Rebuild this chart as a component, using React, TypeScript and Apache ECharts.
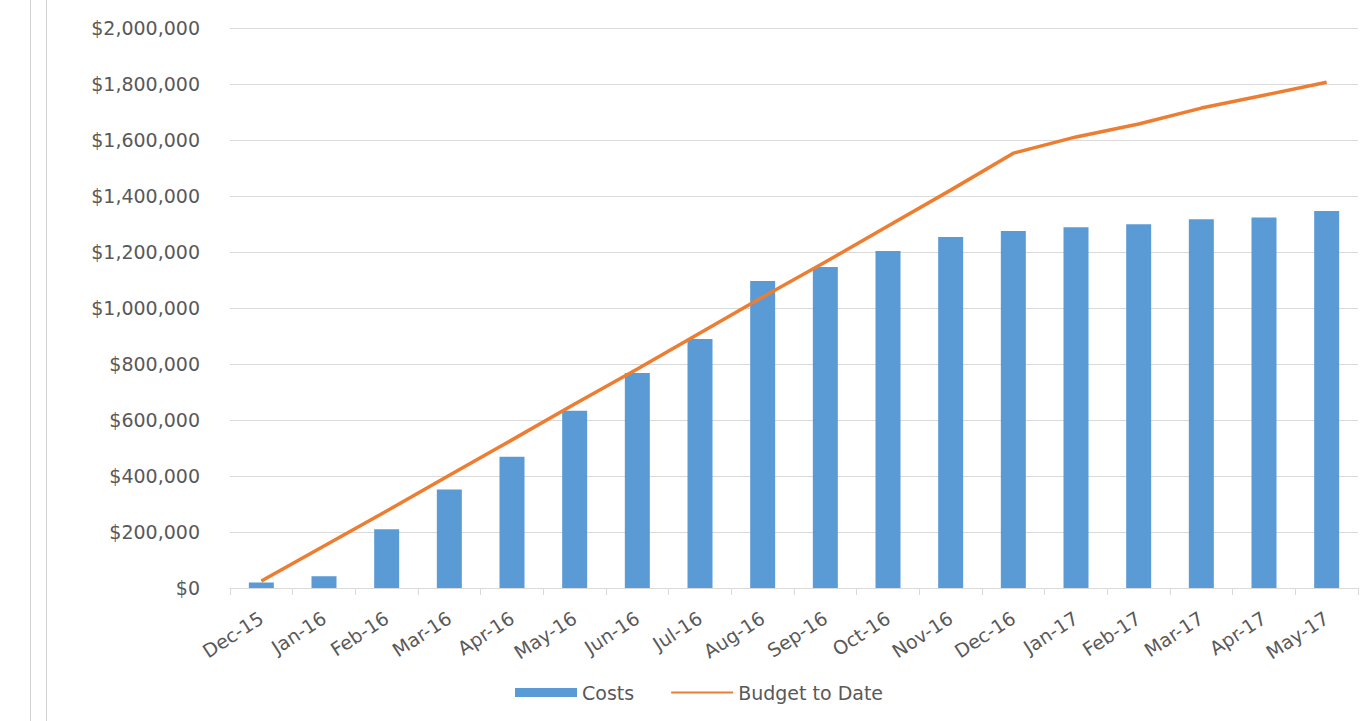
import React, { useEffect, useRef } from "react";
import * as echarts from "echarts";

const months = [
  "Dec-15", "Jan-16", "Feb-16", "Mar-16", "Apr-16", "May-16", "Jun-16", "Jul-16", "Aug-16",
  "Sep-16", "Oct-16", "Nov-16", "Dec-16", "Jan-17", "Feb-17", "Mar-17", "Apr-17", "May-17",
];
const costs = [
  20000, 42000, 210000, 352000, 469000, 633000, 768000, 889000, 1096000,
  1146000, 1204000, 1254000, 1275000, 1288000, 1299000, 1317000, 1323000, 1346000,
];
const budgetToDate = [
  25000, 150000, 275000, 403000, 529000, 657000, 782000, 911000, 1039000,
  1164000, 1293000, 1421000, 1553000, 1611000, 1657000, 1714000, 1760000, 1806000,
];
const yMin = 0;
const yMax = 2000000;
const yStep = 200000;

const textColor = "#595959";
const font = "DejaVu Sans";

export default function App() {
  const ref = useRef<HTMLDivElement>(null);
  useEffect(() => {
    if (!ref.current) return;
    const chart = echarts.init(ref.current, null, { renderer: "svg" });
    chart.setOption({
      animation: false,
      backgroundColor: "#ffffff",
      textStyle: { fontFamily: font, color: textColor },
      graphic: [
        { type: "line", shape: { x1: 30.5, y1: 0, x2: 30.5, y2: 721 }, style: { stroke: "#d0d0d0", lineWidth: 1 } },
        { type: "line", shape: { x1: 46.5, y1: 0, x2: 46.5, y2: 721 }, style: { stroke: "#d0d0d0", lineWidth: 1 } },
      ],
      grid: { left: 230, right: 12, top: 28, bottom: 133, containLabel: false },
      legend: {
        bottom: 14,
        left: 510,
        itemGap: 36,
        itemWidth: 62,
        itemHeight: 9,
        textStyle: { fontFamily: font, fontSize: 19, color: textColor },
        data: [
          { name: "Costs", icon: "rect" },
          { name: "Budget to Date", itemStyle: { opacity: 0 } },
        ],
      },
      xAxis: {
        type: "category",
        data: months,
        boundaryGap: true,
        axisLine: { show: true, lineStyle: { color: "#d9d9d9", width: 1 } },
        axisTick: { show: true, alignWithLabel: false, length: 7, lineStyle: { color: "#d9d9d9" } },
        axisLabel: {
          rotate: 33,
          interval: 0,
          fontFamily: font,
          fontSize: 19,
          color: textColor,
          margin: 28,
        },
        splitLine: { show: false },
      },
      yAxis: {
        type: "value",
        min: yMin,
        max: yMax,
        interval: yStep,
        axisLine: { show: false },
        axisTick: { show: false },
        splitLine: { show: true, lineStyle: { color: "#d9d9d9", width: 1 } },
        axisLabel: {
          fontFamily: font,
          fontSize: 19,
          color: textColor,
          margin: 30,
          formatter: (v: number) => "$" + v.toLocaleString("en-US"),
        },
      },
      series: [
        {
          name: "Costs",
          type: "bar",
          data: costs,
          barWidth: 25,
          itemStyle: { color: "#5b9bd5" },
        },
        {
          name: "Budget to Date",
          type: "line",
          data: budgetToDate,
          symbol: "none",
          showSymbol: false,
          lineStyle: { color: "#ed7d31", width: 3.5 },
          itemStyle: { color: "#ed7d31" },
        },
      ],
    });
    return () => chart.dispose();
  }, []);
  return <div ref={ref} style={{ width: 1370, height: 721, position: "absolute", left: 0, top: 0 }} />;
}
